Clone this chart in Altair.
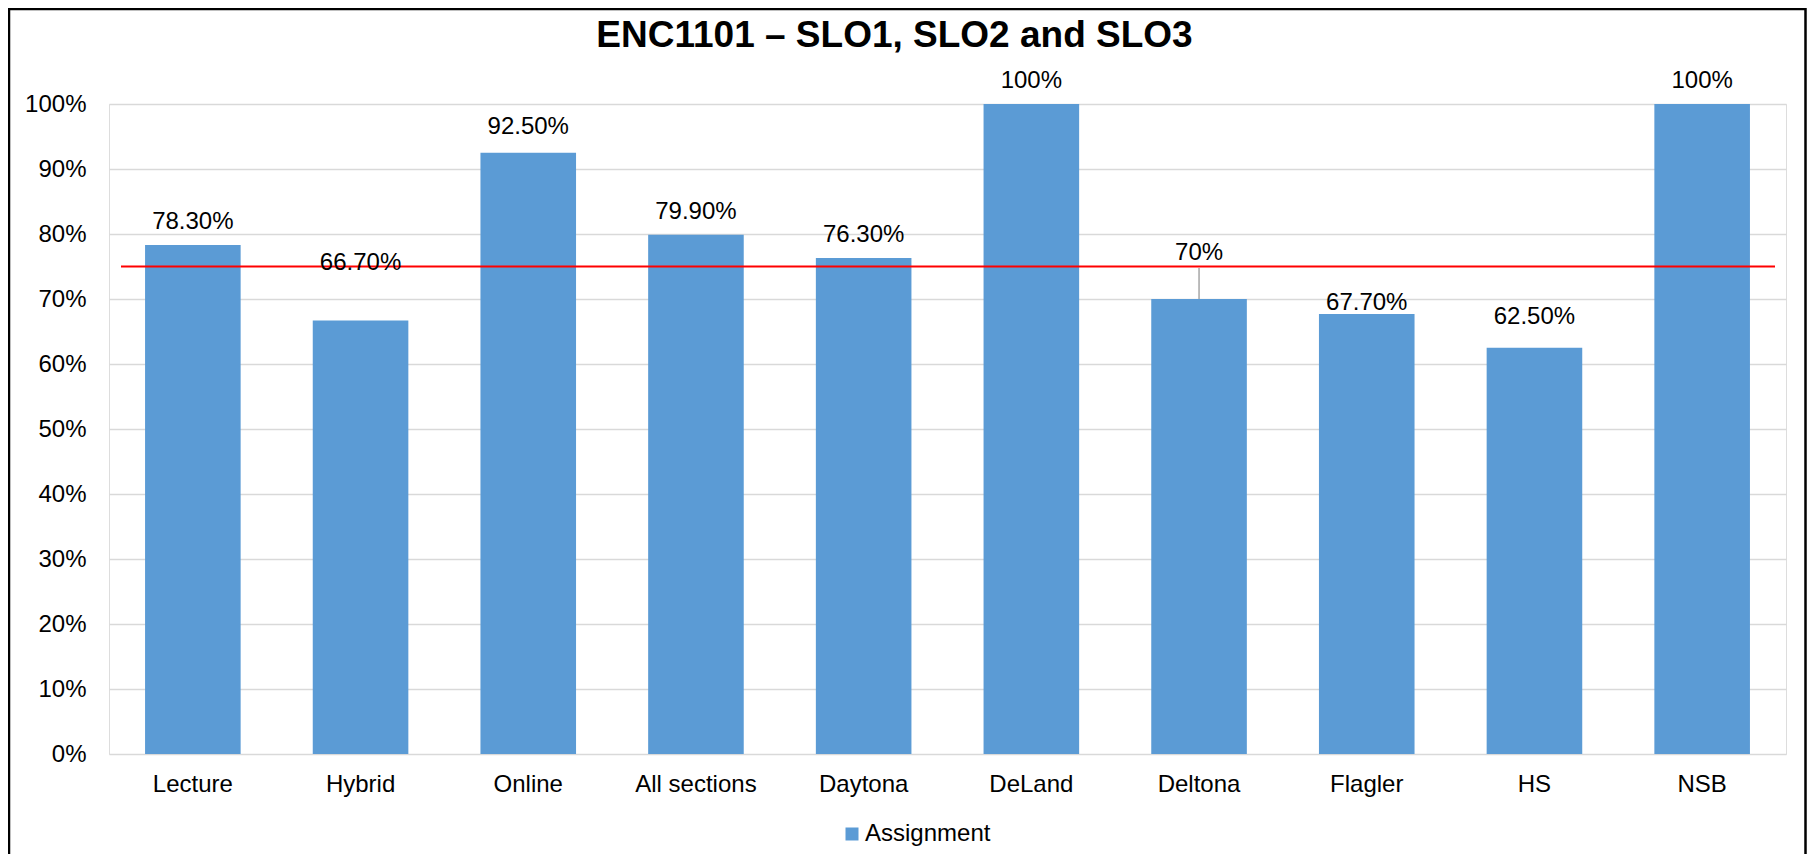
import altair as alt
import pandas as pd

categories = ["Lecture", "Hybrid", "Online", "All sections", "Daytona",
              "DeLand", "Deltona", "Flagler", "HS", "NSB"]
values = [0.783, 0.667, 0.925, 0.799, 0.763, 1.00, 0.70, 0.677, 0.625, 1.00]
value_labels = ["78.30%", "66.70%", "92.50%", "79.90%", "76.30%",
                "100%", "70%", "67.70%", "62.50%", "100%"]
series_name = "Assignment"
target = 0.75
y_ticks = [0, 0.1, 0.2, 0.3, 0.4, 0.5, 0.6, 0.7, 0.8, 0.9, 1.0]

df = pd.DataFrame({"category": categories, "value": values, "label": value_labels,
                   "series": [series_name] * len(categories)})

W, H = 1677, 650
FONT = "Liberation Sans"
BLUE = "#5B9BD5"
FS = 24

x_enc = alt.X("category:N", sort=categories, title=None,
              scale=alt.Scale(paddingInner=0.43, paddingOuter=0.215),
              axis=alt.Axis(labelAngle=0, labelFontSize=FS, labelFont=FONT,
                            labelColor="#000000", labelPadding=18, ticks=False,
                            domain=False, grid=False))
y_enc = alt.Y("value:Q", title=None,
              scale=alt.Scale(domain=[0, 1], nice=False),
              axis=alt.Axis(values=y_ticks, format=".0%", labelFontSize=FS,
                            labelFont=FONT, labelColor="#000000", labelPadding=23,
                            ticks=False, domain=False, grid=True,
                            gridColor="#D9D9D9", gridWidth=1.5))

base = alt.Chart(df)

bars = base.mark_bar(color=BLUE).encode(
    x=x_enc,
    y=y_enc,
    color=alt.Color("series:N", scale=alt.Scale(range=[BLUE]),
                    legend=alt.Legend(title=None, orient="none", legendX=731,
                                      legendY=718, symbolType="square",
                                      symbolSize=169, symbolStrokeWidth=0,
                                      labelFontSize=FS, labelFont=FONT,
                                      labelColor="#000000", labelOffset=1,
                                      padding=0)),
)

target_df = pd.DataFrame({"target": [target]})
target_line = alt.Chart(target_df).mark_rule(color="#FF0000", strokeWidth=2).encode(
    y=alt.Y("target:Q"),
    x=alt.value(12),
    x2=alt.value(W - 11),
)

default_dy = -16
special_dy = {"Hybrid": -50, "Deltona": -39, "Flagler": -4, "HS": -24, "Online": -19}

label_layers = []
others = [c for c in categories if c not in special_dy]
label_layers.append(
    base.transform_filter(alt.FieldOneOfPredicate(field="category", oneOf=others))
    .mark_text(fontSize=FS, font=FONT, color="#000000", baseline="alphabetic", dy=default_dy)
    .encode(x=alt.X("category:N", sort=categories), y="value:Q", text="label:N")
)
for cat, dy in special_dy.items():
    label_layers.append(
        base.transform_filter(alt.datum.category == cat)
        .mark_text(fontSize=FS, font=FONT, color="#000000", baseline="alphabetic", dy=dy)
        .encode(x=alt.X("category:N", sort=categories), y="value:Q", text="label:N")
    )

leader = base.transform_filter(alt.datum.category == "Deltona").mark_rule(
    color="#A6A6A6", strokeWidth=1.5, y2Offset=-31
).encode(x=alt.X("category:N", sort=categories), y="value:Q", y2="value:Q")

border = alt.Chart(alt.Data(values=[{}])).mark_rect(
    fillOpacity=0, stroke="#000000", strokeWidth=2.5
).encode(
    x=alt.value(-100), x2=alt.value(W + 19.5),
    y=alt.value(-95), y2=alt.value(H + 200),
)

chart = alt.layer(border, bars, target_line, leader, *label_layers).properties(
    width=W, height=H,
    title=alt.TitleParams("ENC1101 – SLO1, SLO2 and SLO3", fontSize=37,
                          fontWeight="bold", font=FONT, color="#000000",
                          anchor="middle", baseline="alphabetic", offset=-76,
                          frame="group", dx=-53),
    autosize=alt.AutoSizeParams(type="none"),
    padding={"left": 101, "top": 96, "right": 21, "bottom": 100},
).configure_view(stroke=None).configure(background="#FFFFFF")

chart.save("out.html", embed_options={"renderer": "svg", "actions": False})
